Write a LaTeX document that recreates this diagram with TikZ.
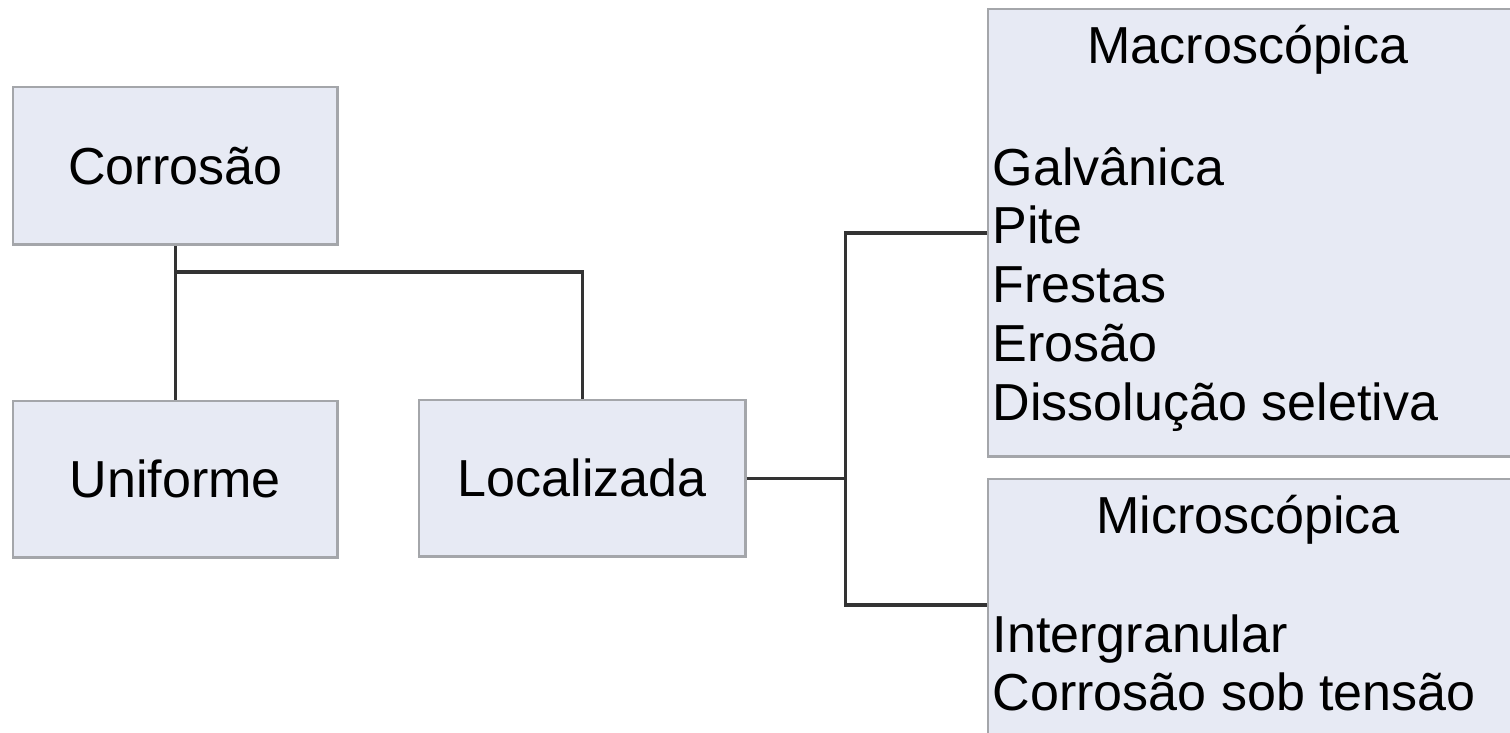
\documentclass[tikz,border=0pt]{standalone}
\usepackage{fontspec}
\setmainfont{Liberation Sans}
\usepackage{tikz}
\usetikzlibrary{positioning}
\definecolor{cbox}{HTML}{E7EAF4}
\definecolor{cedge}{HTML}{A4A6AA}
\definecolor{cline}{HTML}{333333}

\begin{document}
\begin{tikzpicture}[
    x=0.01cm, y=-0.01cm,
    box/.style={draw=cedge, fill=cbox, line width=0.7pt, anchor=north west, inner sep=0pt,
        font=\fontsize{14.8pt}{17pt}\selectfont},
    item/.style={anchor=base west, inner sep=0pt, font=\fontsize{14.8pt}{17pt}\selectfont},
    head/.style={anchor=base, inner sep=0pt, font=\fontsize{14.8pt}{17pt}\selectfont},
    conn/.style={draw=cline, line width=1pt},
]
\clip (0,0) rectangle (1510,732);
\fill[white] (0,0) rectangle (1510,732);

% --- Left boxes ---
\node[box, minimum width=3.24cm, minimum height=1.57cm] (corrosao) at (12,86) {Corrosão};
\node[box, minimum width=3.24cm, minimum height=1.56cm] (uniforme) at (12,400) {Uniforme};
\node[box, minimum width=3.26cm, minimum height=1.56cm] (localizada) at (418,399) {Localizada};

% --- Right boxes ---
\node[box, minimum width=5.4cm, minimum height=4.47cm] (macro) at (987,8) {};
\node[box, minimum width=5.4cm, minimum height=3.0cm] (micro) at (987,478) {};

\node[head] (macrohead) at (1248,63) {Macroscópica};
\foreach [count=\i] \t in {Galvânica, Pite, Frestas, Erosão, Dissolução seletiva} {
    \node[item] (macro\i) at (992, {185+58.8*(\i-1)}) {\t};
}

\node[head] (microhead) at (1248,533) {Microscópica};
\node[item] (micro1) at (992,652) {Intergranular};
\node[item] (micro2) at (992,710) {Corrosão sob tensão};

% --- Connectors ---
\coordinate (split) at (175,272);
\draw[conn] (corrosao.south) -- (uniforme.north);
\draw[conn] (split) -| (localizada.north);

\draw[conn] (localizada.east) -- ++(99,0) coordinate (fork);
\draw[conn] (macro.west) -| (fork) |- ([yshift=-1.27cm]micro.north west);

\end{tikzpicture}
\end{document}
